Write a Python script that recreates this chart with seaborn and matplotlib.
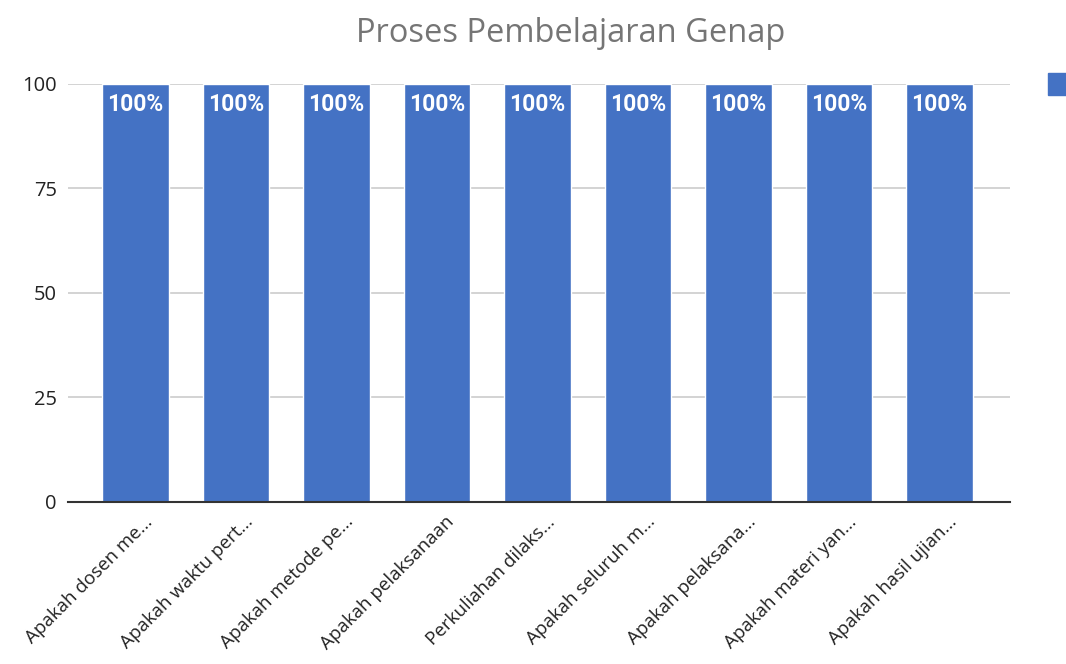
import matplotlib
matplotlib.use("Agg")
import matplotlib.pyplot as plt
import matplotlib.transforms as mtransforms
from matplotlib.patches import Rectangle
import seaborn as sns
import pandas as pd

# data
pertanyaan = [
    "Apakah dosen me...",
    "Apakah waktu pert...",
    "Apakah metode pe...",
    "Apakah pelaksanaan",
    "Perkuliahan dilaks...",
    "Apakah seluruh m...",
    "Apakah pelaksana...",
    "Apakah materi yan...",
    "Apakah hasil ujian...",
]
persen = [100, 100, 100, 100, 100, 100, 100, 100, 100]
yticks = [0, 25, 50, 75, 100]

BIRU = "#4472c4"

sns.set_theme(style="white")
plt.rcParams["font.family"] = ["Open Sans", "DejaVu Sans"]

df = pd.DataFrame({"pertanyaan": pertanyaan, "persen": persen})

fig = plt.figure(figsize=(10.66, 6.64), dpi=100)
ax = fig.add_axes([0.0638, 0.244, 0.8837, 0.6295])

sns.barplot(data=df, x="pertanyaan", y="persen", color=BIRU, width=0.66,
            saturation=1, ax=ax, zorder=3)

ax.set_xlim(-0.67, 8.7)
ax.set_ylim(0, 100)
ax.set_yticks(yticks)
ax.set_yticklabels([str(v) for v in yticks], fontsize=14.5, color="#222222")
ax.yaxis.grid(True, color="#cccccc", linewidth=1.2, zorder=0)
ax.tick_params(axis="y", length=0, pad=8)
ax.tick_params(axis="x", length=0, pad=2)
ax.set_xlabel("")
ax.set_ylabel("")
for s in ["top", "right", "left"]:
    ax.spines[s].set_visible(False)
ax.spines["bottom"].set_color("#333333")
ax.spines["bottom"].set_linewidth(1.5)
ax.spines["bottom"].set_zorder(4)

# rotated category labels
ax.set_xticks(range(len(pertanyaan)))
ax.set_xticklabels(pertanyaan, rotation=45, ha="right", rotation_mode="anchor",
                   fontsize=13.5, color="#222222")
offset = mtransforms.ScaledTranslation(0.08, -0.08, fig.dpi_scale_trans)
for lbl in ax.get_xticklabels():
    lbl.set_transform(lbl.get_transform() + offset)

# value labels
for i, v in enumerate(persen):
    ax.text(i, v - 2.2, f"{v}%", ha="center", va="top", color="white",
            fontsize=16.5, fontweight="bold", family=["Roboto", "DejaVu Sans"],
            zorder=5)

fig.suptitle("Proses Pembelajaran Genap", x=0.535, y=0.975, fontsize=23.5,
             color="#757575")

# legend swatch at right edge (cut off)
fig.patches.append(Rectangle((1048 / 1066, 1 - 95 / 664), 30 / 1066, 22 / 664,
                             transform=fig.transFigure, color=BIRU, figure=fig))

fig.savefig("out.png", dpi=100)
